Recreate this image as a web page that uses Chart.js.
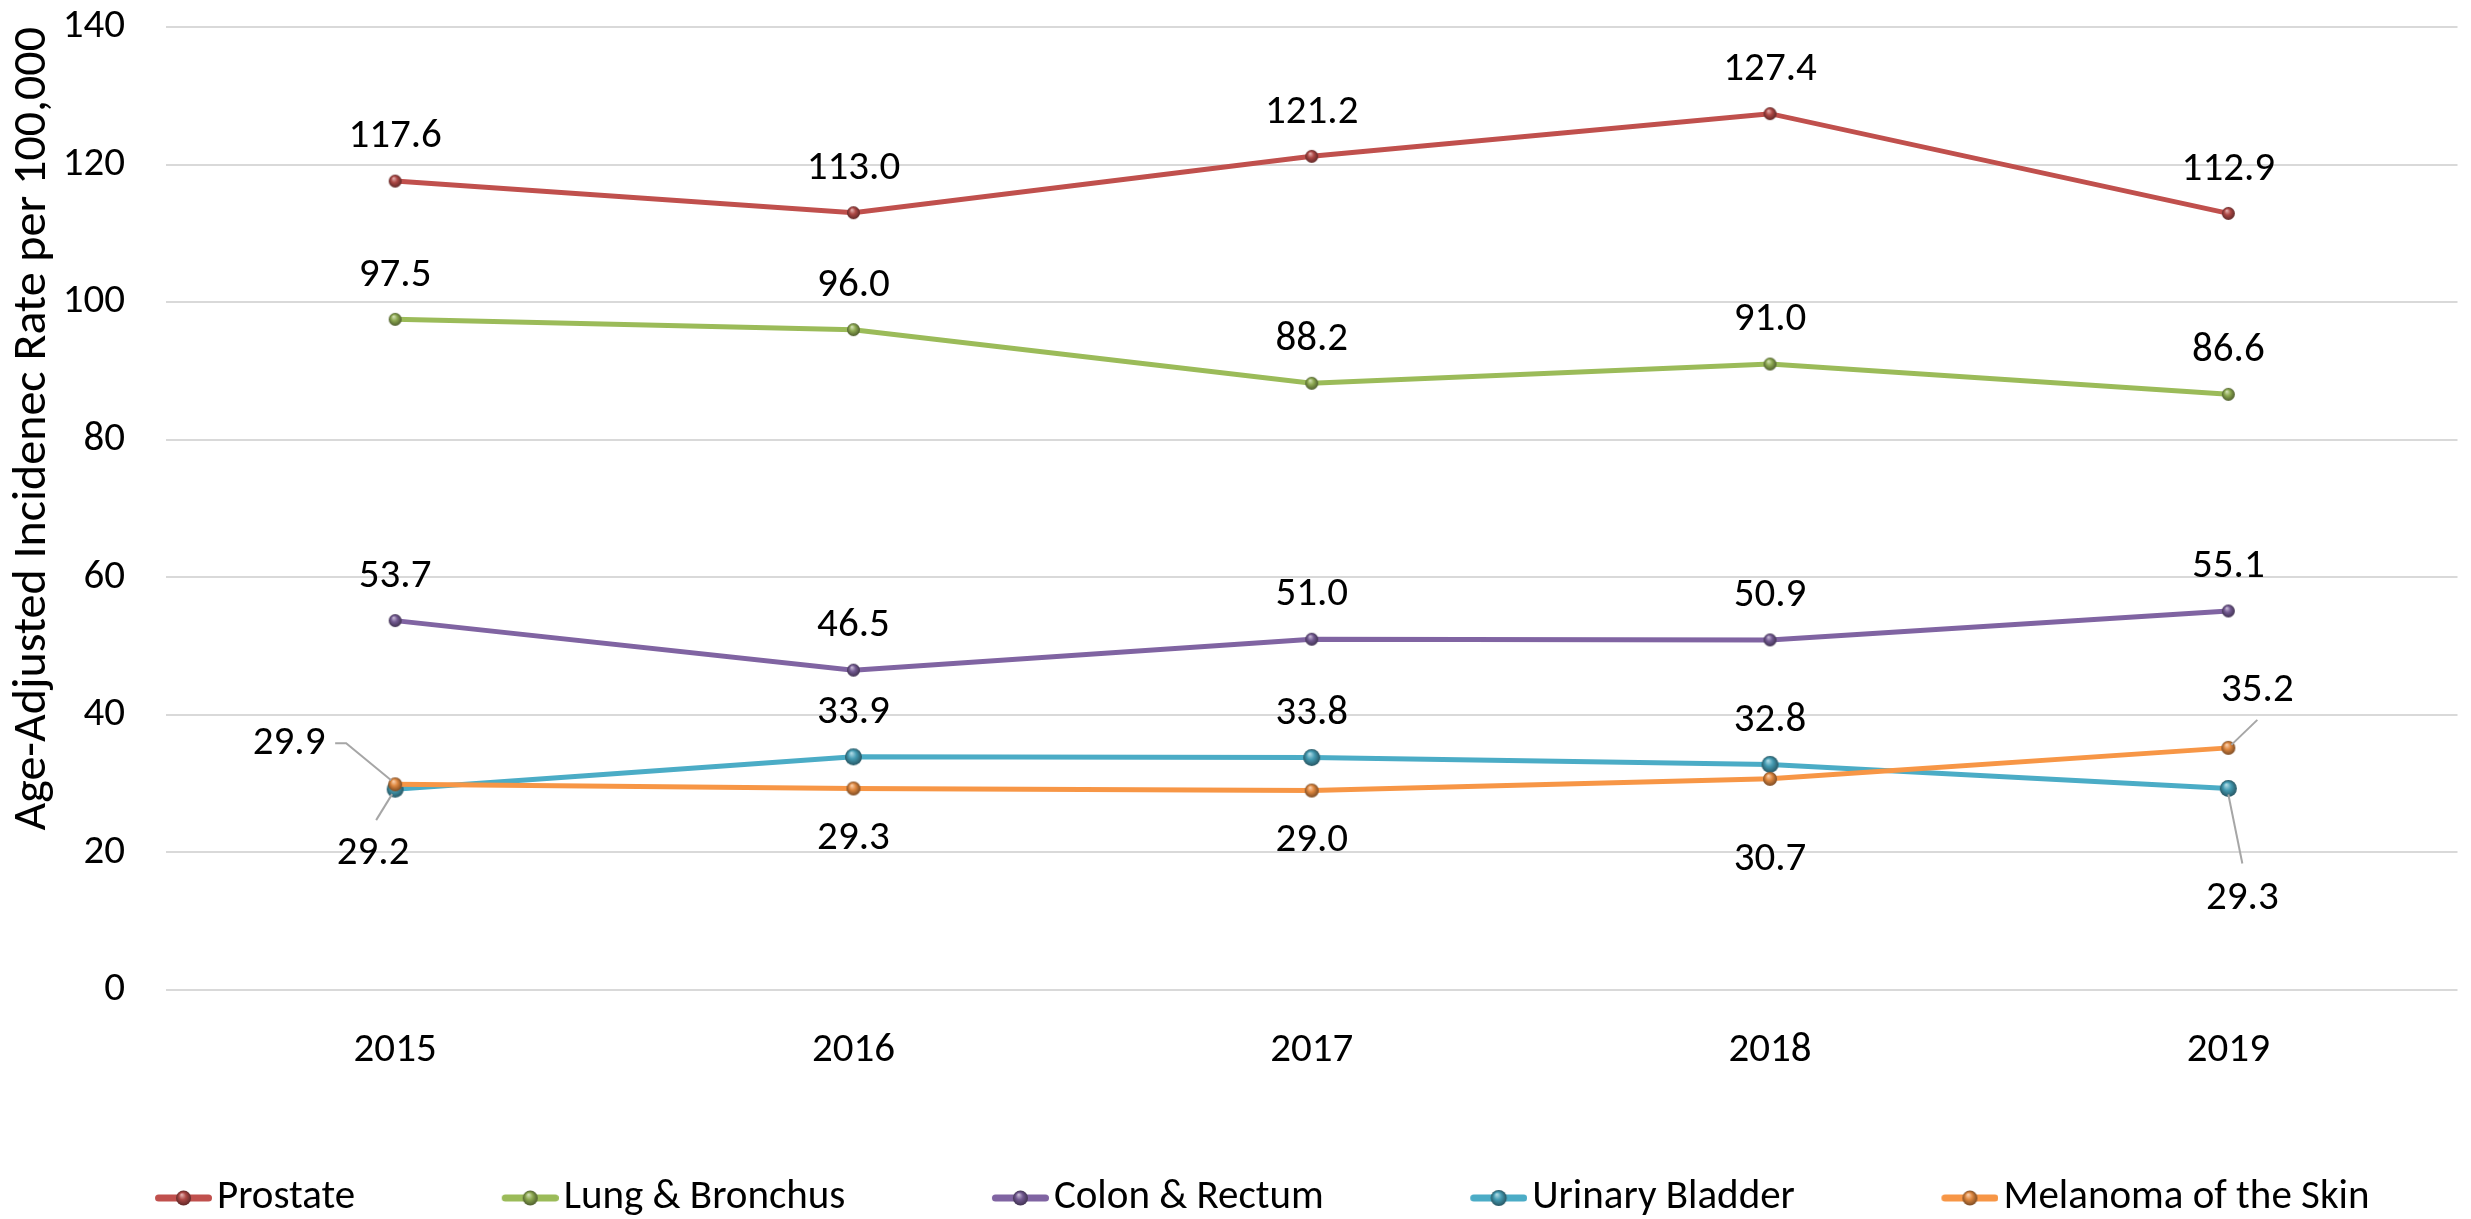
<!DOCTYPE html>
<html><head><meta charset="utf-8">
<script src="https://cdn.jsdelivr.net/npm/chart.js@4.4.1/dist/chart.umd.min.js"></script>
<style>html,body{margin:0;padding:0;background:#fff}#wrap{width:2471px;height:1219px;position:relative}</style>
</head><body><div id="wrap"><canvas id="c"></canvas></div>
<script>
// ---- data ----
const years = ['2015', '2016', '2017', '2018', '2019'];
const prostate = [117.6, 113.0, 121.2, 127.4, 112.9];
const lungBronchus = [97.5, 96.0, 88.2, 91.0, 86.6];
const colonRectum = [53.7, 46.5, 51.0, 50.9, 55.1];
const urinaryBladder = [29.2, 33.9, 33.8, 32.8, 29.3];
const melanomaSkin = [29.9, 29.3, 29.0, 30.7, 35.2];
const seriesNames = ['Prostate', 'Lung & Bronchus', 'Colon & Rectum', 'Urinary Bladder', 'Melanoma of the Skin'];
const yTickValues = [0, 20, 40, 60, 80, 100, 120, 140];
const yTitle = 'Age-Adjusted Incidenec Rate per 100,000';

// ---- style ----
const FONT = 'Carlito, Calibri, Lato, sans-serif';
const FS = 41;
const TITLE_FS = 48;
const colors = ['#C0504D', '#9BBB59', '#8064A2', '#4BACC6', '#F79646'];
const markerR = [6.5, 6.5, 6.5, 8.5, 7];
const ABOVE = {dx: 0, dy: -44};
const labelPlace = [
  [ABOVE, ABOVE, ABOVE, ABOVE, ABOVE],
  [ABOVE, ABOVE, ABOVE, ABOVE, ABOVE],
  [ABOVE, ABOVE, ABOVE, ABOVE, ABOVE],
  [{dx: -22, dy: 65, lead: [[-19, 31], [-3, 5]]}, ABOVE, ABOVE, ABOVE, {dx: 14, dy: 110, lead: [[14, 75], [0, 6]]}],
  [{dx: -106, dy: -41, lead: [[-60, -41], [-49, -41], [-4, -4]]}, {dx: 0, dy: 50}, {dx: 0, dy: 50}, {dx: 0, dy: 81}, {dx: 29, dy: -57, lead: [[29, -28], [3, -3]]}]
];

function shade(hex, f) {
  const n = parseInt(hex.slice(1), 16);
  let r = (n >> 16) & 255, g = (n >> 8) & 255, b = n & 255;
  if (f >= 0) { r += (255 - r) * f; g += (255 - g) * f; b += (255 - b) * f; }
  else { r *= 1 + f; g *= 1 + f; b *= 1 + f; }
  return `rgb(${Math.round(r)},${Math.round(g)},${Math.round(b)})`;
}
function drawSphere(g, cx, cy, r, color) {
  const grad = g.createRadialGradient(cx - r * 0.25, cy - r * 0.45, r * 0.05, cx, cy, r);
  grad.addColorStop(0, shade(color, 0.55));
  grad.addColorStop(0.45, shade(color, -0.1));
  grad.addColorStop(1, shade(color, -0.5));
  g.fillStyle = grad;
  g.beginPath(); g.arc(cx, cy, r, 0, Math.PI * 2); g.fill();
}
function sphereImg(color, r) {
  const c = document.createElement('canvas');
  const s = Math.ceil(r * 2 + 2);
  c.width = c.height = s;
  drawSphere(c.getContext('2d'), s / 2, s / 2, r, color);
  return c;
}
// legend symbol: transparent left part, 57px line with sphere at the right end of the image
const LEG_PAD = 100;
const LEG_BOX = 88, LEG_IMG_W = LEG_BOX + 31;
function legendImg(color, r) {
  const c = document.createElement('canvas');
  c.width = LEG_IMG_W; c.height = 22;
  const g = c.getContext('2d');
  const x1 = LEG_IMG_W - 57, x2 = LEG_IMG_W;
  g.strokeStyle = color; g.lineWidth = 7; g.lineCap = 'round';
  g.beginPath(); g.moveTo(x1 + 3.5, 11); g.lineTo(x2 - 3.5, 11); g.stroke();
  drawSphere(g, (x1 + x2) / 2, 11, r, color);
  return c;
}

const seriesData = [prostate, lungBronchus, colonRectum, urinaryBladder, melanomaSkin];
const datasets = seriesData.map((d, i) => ({
  label: seriesNames[i],
  data: d,
  borderColor: colors[i],
  backgroundColor: colors[i],
  borderWidth: 5,
  pointStyle: sphereImg(colors[i], markerR[i]),
  pointRadius: markerR[i],
  tension: 0,
  fill: false,
  order: 4 - i
}));
const legendImgs = colors.map((c, i) => legendImg(c, i === 3 ? 8 : 7.5));

const labelPlugin = {
  id: 'valueLabels',
  afterDatasetsDraw(chart) {
    const ctx = chart.ctx;
    ctx.save();
    ctx.font = `${FS}px ${FONT}`;
    ctx.textAlign = 'center';
    ctx.textBaseline = 'middle';
    chart.data.datasets.forEach((ds, di) => {
      const meta = chart.getDatasetMeta(di);
      meta.data.forEach((pt, i) => {
        const p = labelPlace[di][i];
        if (p.lead) {
          ctx.strokeStyle = '#A6A6A6'; ctx.lineWidth = 2;
          ctx.beginPath();
          p.lead.forEach((q, k) => { const fn = k ? 'lineTo' : 'moveTo'; ctx[fn](pt.x + q[0], pt.y + q[1]); });
          ctx.stroke();
        }
        ctx.fillStyle = '#000';
        ctx.fillText(ds.data[i].toFixed(1), pt.x + p.dx, pt.y + p.dy);
      });
    });
    ctx.restore();
  }
};

const LEG_TOP = 1177.5 - LEG_PAD;
new Chart(document.getElementById('c'), {
  type: 'line',
  data: {labels: years, datasets},
  plugins: [labelPlugin],
  options: {
    responsive: true,
    maintainAspectRatio: false,
    animation: false,
    events: [],
    layout: {padding: {top: 27, right: -7, left: 0, bottom: 0}},
    plugins: {
      tooltip: {enabled: false},
      legend: {
        position: 'bottom',
        maxHeight: 1219 - LEG_TOP,
        labels: {
          usePointStyle: true,
          pointStyleWidth: LEG_BOX,
          padding: LEG_PAD,
          color: '#000',
          font: {family: FONT, size: FS},
          generateLabels: (chart) => chart.data.datasets.map((ds, i) => ({
            text: ds.label, pointStyle: legendImgs[i], fillStyle: colors[i], strokeStyle: colors[i],
            lineWidth: 0, hidden: false, datasetIndex: i, fontColor: '#000'
          }))
        }
      }
    },
    scales: {
      x: {
        offset: true,
        grid: {display: false},
        border: {display: false},
        ticks: {color: '#000', font: {family: FONT, size: FS}, padding: 28},
        afterFit: (s) => { s.height = LEG_TOP - 990; }
      },
      y: {
        min: 0, max: 140,
        afterBuildTicks: (s) => { s.ticks = yTickValues.map(v => ({value: v})); },
        afterFit: (s) => { s.paddingTop = 0; s.paddingBottom = 0; s.width = 166; },
        grid: {color: '#D9D9D9', lineWidth: 2, drawTicks: false},
        border: {display: false},
        ticks: {color: '#000', font: {family: FONT, size: FS}, padding: 41},
        title: {display: true, text: yTitle, align: 'end', color: '#000', font: {family: FONT, size: TITLE_FS}, padding: {top: 4, bottom: 1}}
      }
    }
  }
});
</script>
</body></html>
